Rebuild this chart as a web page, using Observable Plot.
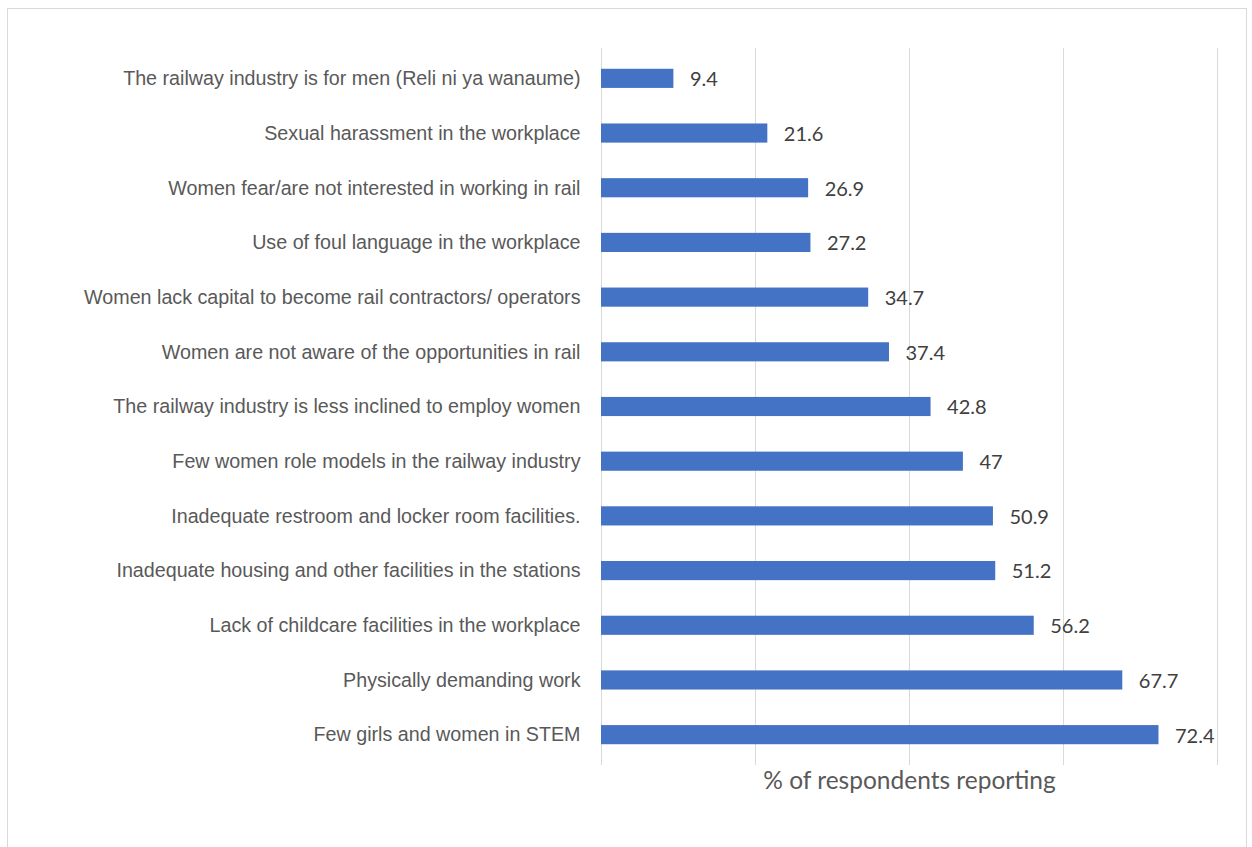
<!DOCTYPE html>
<html>
<head>
<meta charset="utf-8">
<script src="https://cdn.jsdelivr.net/npm/d3@7"></script>
<script src="https://cdn.jsdelivr.net/npm/@observablehq/plot@0.6"></script>
<style>
  html, body { margin: 0; padding: 0; background: #fff; }
  #wrap { position: relative; width: 1252px; height: 847px; overflow: hidden; }
  #frame { position: absolute; left: 7px; top: 8px; width: 1240px; height: 860px; border: 1px solid #d9d9d9; box-sizing: border-box; }
  #chart { position: absolute; left: 0; top: 0; }
</style>
</head>
<body>
<div id="wrap"><div id="frame"></div><div id="chart"></div></div>
<script>
const categories = [
  "The railway industry is for men (Reli ni ya wanaume)",
  "Sexual harassment in the workplace",
  "Women fear/are not interested in working in rail",
  "Use of foul language in the workplace",
  "Women lack capital to become rail contractors/ operators",
  "Women are not aware of the opportunities in rail",
  "The railway industry is less inclined to employ women",
  "Few women role models in the railway industry",
  "Inadequate restroom and locker room facilities.",
  "Inadequate housing and other facilities in the stations",
  "Lack of childcare facilities in the workplace",
  "Physically demanding work",
  "Few girls and women in STEM"
];
const values = [9.4, 21.6, 26.9, 27.2, 34.7, 37.4, 42.8, 47, 50.9, 51.2, 56.2, 67.7, 72.4];
const gridTicks = [0, 20, 40, 60, 80];
const axisTitle = "% of respondents reporting";

const data = categories.map((c, i) => ({category: c, value: values[i]}));

const chart = Plot.plot({
  width: 1252,
  height: 847,
  marginLeft: 601,
  marginRight: 35,
  marginTop: 51,
  marginBottom: 85,
  style: {background: "transparent", overflow: "visible"},
  x: {domain: [0, 80], axis: null},
  y: {domain: categories, paddingInner: 0.65, paddingOuter: 0.325, round: false, label: null},
  marks: [
    Plot.ruleX(gridTicks, {stroke: "#d9d9d9", strokeWidth: 1, insetTop: -3, insetBottom: -3}),
    Plot.barX(data, {x: "value", y: "category", fill: "#4472C4"}),
    Plot.text(data, {x: "value", y: "category", text: d => String(d.value), textAnchor: "start", dx: 16, dy: 1,
      fontFamily: "Lato, 'Open Sans', sans-serif", fontSize: 20, fill: "#404040"}),
    Plot.axisY({tickSize: 0, tickPadding: 21, label: null,
      fontFamily: "'Liberation Sans', Arial, sans-serif", fontSize: 19.7, fill: "#595959"}),
    Plot.text([axisTitle], {frameAnchor: "bottom", dy: 26, text: d => d,
      fontFamily: "Lato, 'Open Sans', sans-serif", fontSize: 24.5, fill: "#595959"})
  ]
});
document.getElementById("chart").appendChild(chart);
</script>
</body>
</html>
